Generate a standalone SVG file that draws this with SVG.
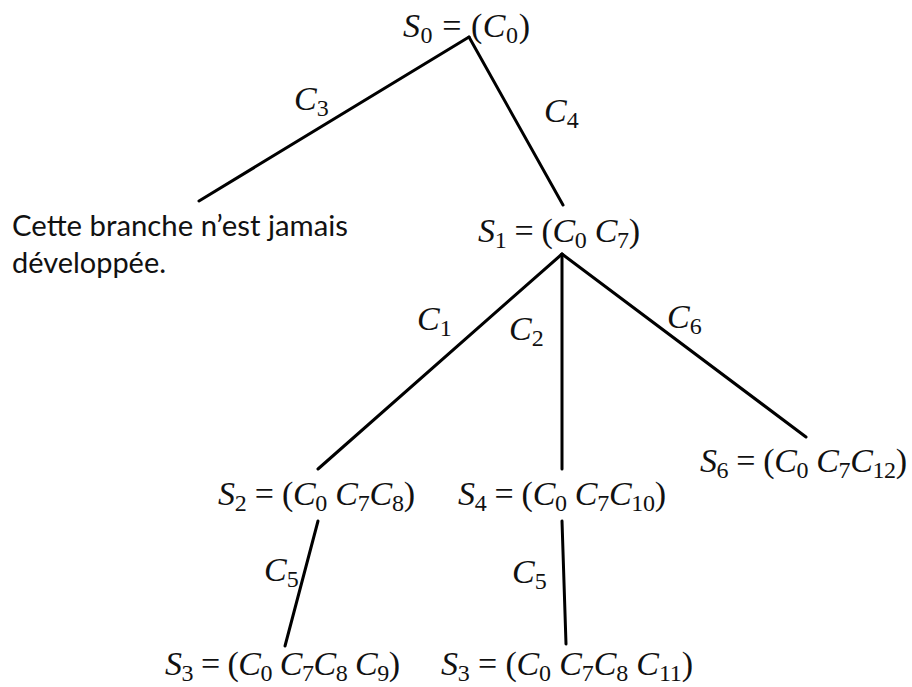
<svg xmlns="http://www.w3.org/2000/svg" width="912" height="687" viewBox="0 0 912 687">
<style>
.m{font-family:"Liberation Serif","DejaVu Serif",serif;font-size:34px;fill:#111}
.i{font-style:italic}
.s{font-size:24px}
.t{font-family:"Lato","Open Sans",sans-serif;font-size:28px;fill:#111}
.e{stroke:#000;stroke-width:3;fill:none;stroke-linecap:round}
</style>
<rect width="912" height="687" fill="#fff"/>
<g id="connectors">
<line class="e" x1="469" y1="37" x2="199" y2="201"/>
<line class="e" x1="469" y1="37" x2="563" y2="205"/>
<line class="e" x1="562" y1="254" x2="318" y2="469"/>
<line class="e" x1="562" y1="254" x2="562" y2="469"/>
<line class="e" x1="562" y1="254" x2="806" y2="437"/>
<line class="e" x1="318" y1="521" x2="285" y2="646"/>
<line class="e" x1="562" y1="521" x2="566" y2="644"/>
<text class="m i" x="294" y="110">C<tspan class="s" dy="6" font-style="normal">3</tspan></text>
<text class="m i" x="544" y="122">C<tspan class="s" dy="6" font-style="normal">4</tspan></text>
<text class="m i" x="417" y="330">C<tspan class="s" dy="6" font-style="normal">1</tspan></text>
<text class="m i" x="509" y="340">C<tspan class="s" dy="6" font-style="normal">2</tspan></text>
<text class="m i" x="667" y="328">C<tspan class="s" dy="6" font-style="normal">6</tspan></text>
<text class="m i" x="264" y="581">C<tspan class="s" dy="6" font-style="normal">5</tspan></text>
<text class="m i" x="512" y="583">C<tspan class="s" dy="6" font-style="normal">5</tspan></text>
</g>
<g id="S0">
<text class="m" x="403" y="37" textLength="127" lengthAdjust="spacing"><tspan class="i">S</tspan><tspan class="s" dy="6">0</tspan><tspan dy="-6"> = (</tspan><tspan class="i">C</tspan><tspan class="s" dy="6">0</tspan><tspan dy="-6">)</tspan></text>
</g>
<g id="branche">
<text class="t" x="12" y="236" textLength="336" lengthAdjust="spacingAndGlyphs">Cette branche n’est jamais</text>
<text class="t" x="12" y="273" textLength="154" lengthAdjust="spacingAndGlyphs">développée.</text>
</g>
<g id="S1">
<text class="m" x="478" y="242" textLength="162" lengthAdjust="spacing"><tspan class="i">S</tspan><tspan class="s" dy="6">1</tspan><tspan dy="-6"> = (</tspan><tspan class="i">C</tspan><tspan class="s" dy="6">0</tspan><tspan dy="-6" class="i"> C</tspan><tspan class="s" dy="6">7</tspan><tspan dy="-6">)</tspan></text>
</g>
<g id="S2">
<text class="m" x="218" y="505" textLength="197" lengthAdjust="spacing"><tspan class="i">S</tspan><tspan class="s" dy="6">2</tspan><tspan dy="-6"> = (</tspan><tspan class="i">C</tspan><tspan class="s" dy="6">0</tspan><tspan dy="-6" class="i"> C</tspan><tspan class="s" dy="6">7</tspan><tspan dy="-6" class="i">C</tspan><tspan class="s" dy="6">8</tspan><tspan dy="-6">)</tspan></text>
</g>
<g id="S4">
<text class="m" x="458" y="505" textLength="208" lengthAdjust="spacing"><tspan class="i">S</tspan><tspan class="s" dy="6">4</tspan><tspan dy="-6"> = (</tspan><tspan class="i">C</tspan><tspan class="s" dy="6">0</tspan><tspan dy="-6" class="i"> C</tspan><tspan class="s" dy="6">7</tspan><tspan dy="-6" class="i">C</tspan><tspan class="s" dy="6">10</tspan><tspan dy="-6">)</tspan></text>
</g>
<g id="S6">
<text class="m" x="700" y="472" textLength="207" lengthAdjust="spacing"><tspan class="i">S</tspan><tspan class="s" dy="6">6</tspan><tspan dy="-6"> = (</tspan><tspan class="i">C</tspan><tspan class="s" dy="6">0</tspan><tspan dy="-6" class="i"> C</tspan><tspan class="s" dy="6">7</tspan><tspan dy="-6" class="i">C</tspan><tspan class="s" dy="6">12</tspan><tspan dy="-6">)</tspan></text>
</g>
<g id="S3a">
<text class="m" x="165" y="675" textLength="235" lengthAdjust="spacing"><tspan class="i">S</tspan><tspan class="s" dy="6">3</tspan><tspan dy="-6"> = (</tspan><tspan class="i">C</tspan><tspan class="s" dy="6">0</tspan><tspan dy="-6" class="i"> C</tspan><tspan class="s" dy="6">7</tspan><tspan dy="-6" class="i">C</tspan><tspan class="s" dy="6">8</tspan><tspan dy="-6" class="i"> C</tspan><tspan class="s" dy="6">9</tspan><tspan dy="-6">)</tspan></text>
</g>
<g id="S3b">
<text class="m" x="441" y="675" textLength="252" lengthAdjust="spacing"><tspan class="i">S</tspan><tspan class="s" dy="6">3</tspan><tspan dy="-6"> = (</tspan><tspan class="i">C</tspan><tspan class="s" dy="6">0</tspan><tspan dy="-6" class="i"> C</tspan><tspan class="s" dy="6">7</tspan><tspan dy="-6" class="i">C</tspan><tspan class="s" dy="6">8</tspan><tspan dy="-6" class="i"> C</tspan><tspan class="s" dy="6">11</tspan><tspan dy="-6">)</tspan></text>
</g>
</svg>
